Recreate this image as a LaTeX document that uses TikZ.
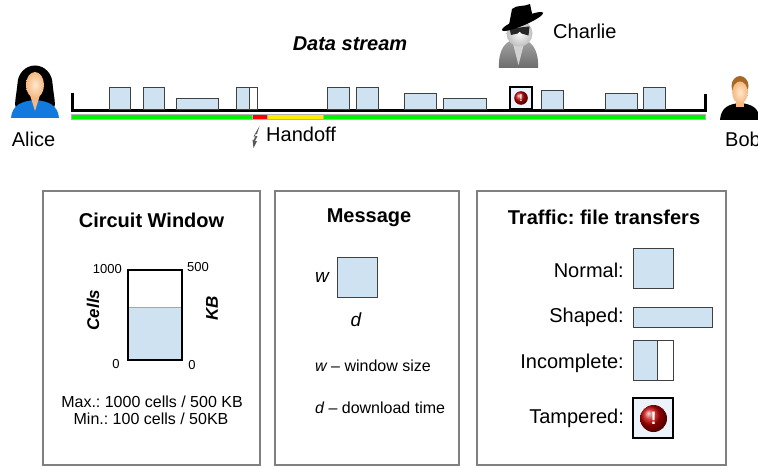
\documentclass[tikz,border=0pt]{standalone}
\usepackage{fontspec}
\setmainfont{Liberation Sans}
\usetikzlibrary{arrows.meta}
\frenchspacing

\definecolor{pktblue}{RGB}{207,226,242}
\definecolor{skin}{RGB}{244,184,130}
\definecolor{skinlight}{RGB}{255,232,205}
\definecolor{shirtblue}{RGB}{18,122,222}
\definecolor{hairbrown}{RGB}{165,104,38}
\definecolor{panelgray}{RGB}{128,128,128}
\definecolor{linkgreen}{RGB}{0,242,0}
\definecolor{linkyellow}{RGB}{255,238,0}

\begin{document}
\begin{tikzpicture}[x=10pt,y=10pt,
  pkt/.style={fill=pktblue,draw=black!75,line width=0.8pt},
  lbl/.style={font=\fontsize{20}{24}\selectfont},
  ttl/.style={font=\fontsize{20}{24}\selectfont\bfseries},
  note/.style={font=\fontsize{16}{19}\selectfont},
  tick/.style={font=\fontsize{13}{16}\selectfont},
  axis/.style={font=\fontsize{17}{20}\selectfont\bfseries\itshape,rotate=90},
  panel/.style={draw=panelgray,line width=2.5pt},
  warn/.style={ball color=red!75!black}]
\useasboundingbox (0,0) rectangle (75.8,46.7);

\draw[gray!60,fill=linkgreen] (7.1,34.8) rectangle (70.5,35.3);
\draw[gray!60,fill=red] (25.2,34.8) rectangle (26.7,35.3);
\draw[gray!60,fill=linkyellow] (26.7,34.8) rectangle (32.3,35.3);
\draw[line width=3pt] (7.2,37.4) -- (7.2,35.65) -- (70.55,35.65) -- (70.55,37.3);

\foreach \a/\b/\t in {10.9/13.0/38.0, 14.3/16.4/38.0, 17.6/21.8/36.9,
                      32.7/34.9/38.0, 35.6/37.8/38.0, 40.4/43.6/37.4,
                      44.3/48.6/36.9, 54.1/56.3/37.7, 60.5/63.7/37.4,
                      64.3/66.5/38.0}
  \draw[pkt] (\a,35.8) rectangle (\b,\t);
\draw[pkt] (23.6,35.8) rectangle (24.9,38.0);
\draw[pkt,fill=white] (24.9,35.8) rectangle (25.7,38.0);

\draw[line width=1.5pt,fill=pktblue!40] (51.0,35.8) rectangle (53.2,38.0);
\shade[warn] (52.1,36.9) circle (0.68);
\node[text=white,font=\fontsize{10}{12}\selectfont\bfseries] (bang) at (52.1,36.9) {!};

\node[font=\fontsize{20}{24}\selectfont\bfseries\itshape] (stream) at (35.0,42.3) {Data stream};

\fill[black!65] (25.95,34.1) -- (25.35,33.05) -- (25.75,33.1) -- (25.5,32.6)
  -- (25.7,32.6) -- (25.35,31.9) -- (25.25,32.75) -- (25.4,32.7) -- (25.55,33.3)
  -- (25.7,33.3) -- cycle;
\node[lbl,anchor=west,inner sep=0pt] (handoff) at (26.6,33.3) {Handoff};

\fill[black] (3.5,38.3) ellipse (1.75 and 1.85);
\fill[black] (1.75,38.3) .. controls (1.6,37.0) and (1.4,36.2) .. (1.6,35.9)
  -- (5.4,35.9) .. controls (5.6,36.2) and (5.4,37.0) .. (5.25,38.3) -- cycle;
\fill[shirtblue] (1.1,34.9) .. controls (1.2,36.2) and (2.2,36.6) .. (3.5,36.7)
  .. controls (4.8,36.6) and (5.8,36.2) .. (5.9,34.9) -- cycle;
\fill[skin] (3.0,37.2) -- (4.0,37.2) -- (3.5,35.6) -- cycle;
\shade[inner color=skinlight,outer color=skin] (3.5,38.2) ellipse (0.9 and 1.3);
\node[lbl] (alice) at (3.35,32.8) {Alice};

\fill[black] (72.0,34.7) .. controls (72.1,35.9) and (72.8,36.3) .. (74.0,36.4)
  .. controls (75.2,36.3) and (75.9,35.9) .. (76.0,34.7) -- cycle;
\fill[skin] (73.6,36.6) rectangle (74.4,36.0);
\fill[hairbrown] (74.0,38.1) ellipse (0.85 and 1.0);
\shade[inner color=skinlight,outer color=skin] (74.0,37.45) ellipse (0.78 and 1.1);
\node[lbl,anchor=west,inner sep=0pt] (bob) at (72.5,32.8) {Bob};

\shade[top color=gray!70,bottom color=gray!85!black] (49.9,39.9)
  .. controls (49.8,41.8) and (50.6,42.8) .. (51.85,42.8)
  .. controls (53.1,42.8) and (53.9,41.8) .. (53.8,39.9) -- cycle;
\fill[gray!35] (51.2,42.7) -- (52.5,42.7) -- (51.85,40.2) -- cycle;
\shade[inner color=gray!5,outer color=gray!50] (51.95,43.35) circle (1.3);
\fill[black!85] (50.95,43.85) -- (52.95,44.05) -- (52.85,43.15) -- (52.15,43.35)
  -- (51.95,43.55) -- (51.75,43.35) -- (51.1,43.2) -- cycle;
\fill[black] (50.9,44.2) -- (51.2,45.8) .. controls (51.7,46.25) and (52.4,46.0) .. (53.0,46.3)
  -- (53.3,44.9) -- cycle;
\fill[black,rotate around={23:(52.25,44.55)}] (52.25,44.55) ellipse (2.25 and 0.4);
\node[lbl,anchor=west,inner sep=0pt] (charlie) at (55.3,43.6) {Charlie};

\draw[panel] (4.3,0.2) rectangle (26.0,27.6);
\draw[panel] (27.5,0.2) rectangle (45.9,27.6);
\draw[panel] (47.7,0.2) rectangle (72.6,27.6);

\node[ttl] (cwtitle) at (15.15,24.7) {Circuit Window};
\fill[pktblue] (12.8,10.7) rectangle (18.2,16.0);
\draw[gray!70] (12.8,16.0) -- (18.2,16.0);
\draw[line width=2.5pt] (12.8,10.7) rectangle (18.2,19.7);
\node[tick,anchor=east,inner sep=0pt] (cmax) at (12.2,19.8) {1000};
\node[tick,anchor=west,inner sep=0pt] (kmax) at (18.7,20.0) {500};
\node[tick] (cmin) at (11.6,10.3) {0};
\node[tick] (kmin) at (19.2,10.2) {0};
\node[axis] (cells) at (9.3,15.7) {Cells};
\node[axis] (kb) at (21.2,15.9) {KB};
\node[note] (maxline) at (15.2,6.5) {Max.: 1000 cells / 500 KB};
\node[note] (minline) at (15.1,4.8) {Min.: 100 cells / 50KB};

\node[ttl] (msgtitle) at (36.9,24.9) {Message};
\draw[pkt] (33.7,17.0) rectangle (37.7,21.0);
\node[lbl,font=\fontsize{19}{23}\selectfont\itshape] (w) at (32.2,19.0) {w};
\node[lbl,font=\fontsize{19}{23}\selectfont\itshape] (d) at (35.6,14.7) {d};
\node[note,anchor=west,inner sep=0pt] (wkey) at (31.5,10.1) {\itshape w\upshape\ -- window size};
\node[note,anchor=west,inner sep=0pt] (dkey) at (31.5,5.9) {\itshape d\upshape\ -- download time};

\node[ttl] (tftitle) at (60.4,25.0) {Traffic: file transfers};
\node[lbl,anchor=east,inner sep=0pt] (normal) at (62.4,19.7) {Normal:};
\draw[pkt] (63.3,17.9) rectangle (67.3,21.9);
\node[lbl,anchor=east,inner sep=0pt] (shaped) at (62.4,15.0) {Shaped:};
\draw[pkt] (63.3,14.0) rectangle (71.2,16.0);
\node[lbl,anchor=east,inner sep=0pt] (incomplete) at (62.4,10.4) {Incomplete:};
\draw[pkt] (63.3,8.7) rectangle (65.7,12.7);
\draw[pkt,fill=white] (65.7,8.7) rectangle (67.3,12.7);
\node[lbl,anchor=east,inner sep=0pt] (tampered) at (62.4,4.9) {Tampered:};
\draw[line width=1.5pt,fill=pktblue!40] (63.3,2.9) rectangle (67.3,6.9);
\shade[warn] (65.35,4.85) circle (1.35);
\node[text=white,font=\fontsize{18}{22}\selectfont\bfseries] (bigbang) at (65.35,4.85) {!};
\end{tikzpicture}
\end{document}
